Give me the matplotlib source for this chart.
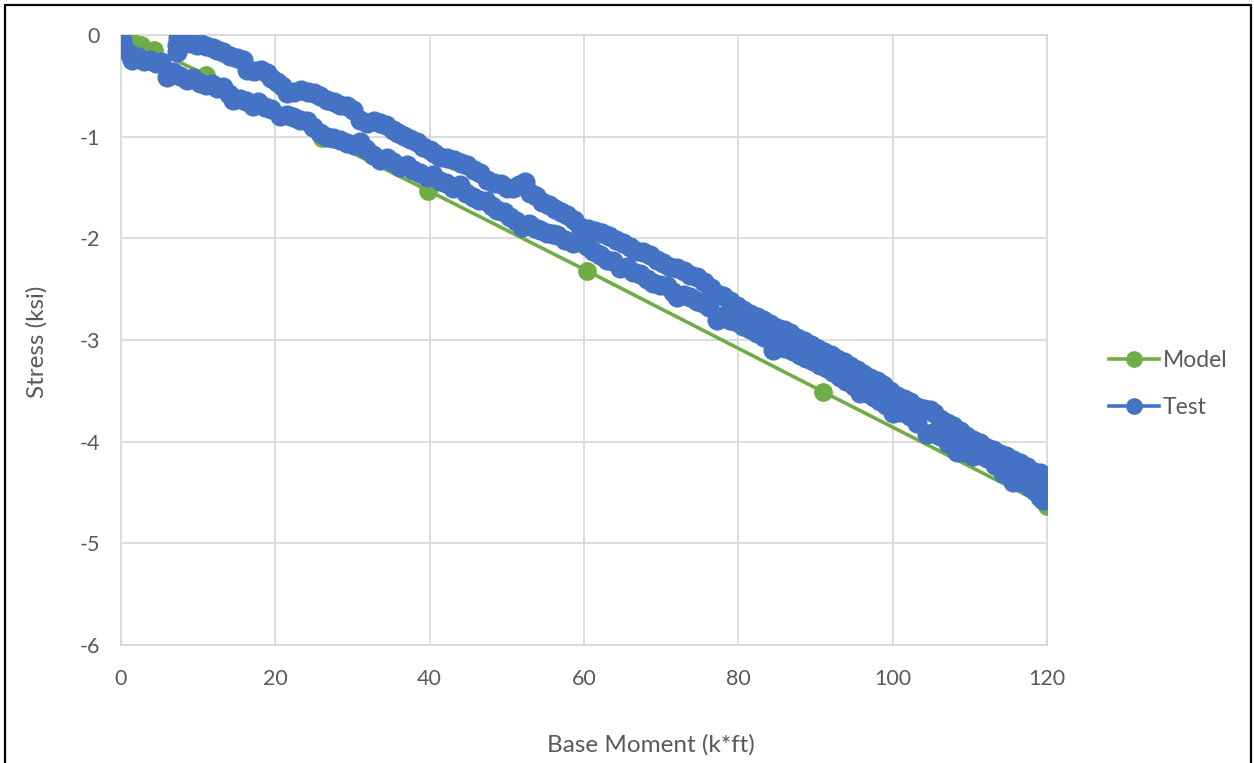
import matplotlib
matplotlib.use("Agg")
import matplotlib.pyplot as plt
from matplotlib.patches import Rectangle

# Model curve (Base Moment k*ft, Stress ksi)
model_x = [0.0, 1.2, 2.6, 4.3, 11.0, 26.0, 39.8, 60.4, 91.0, 120.0]
model_y = [0.0, -0.03, -0.10, -0.15, -0.39, -1.01, -1.53, -2.32, -3.51, -4.63]

# Test: loading branch (0 -> 120)
load_x = [0.0, 0.1, 0.3, 1.0, 1.4, 2.2, 3.0, 3.8, 4.6, 5.2, 6.0, 6.8, 7.6, 8.5, 9.3,
          10.2, 11.0, 11.8, 12.5, 13.2, 14.0, 14.5, 15.4, 16.2, 17.1, 17.8, 18.6, 19.4,
          20.6, 21.5, 22.3, 23.2, 24.1, 24.9, 25.8, 26.7, 27.5, 28.4, 29.3, 30.2, 31.0,
          31.8, 32.7, 33.6, 34.5, 35.3, 36.2, 37.0, 37.9, 38.7, 39.6, 40.4, 41.3, 42.1,
          43.0, 43.9, 44.7, 45.6, 46.4, 47.3, 48.1, 48.7, 49.6, 50.4, 51.2, 52.0, 52.9,
          53.6, 54.3, 55.2, 56.0, 56.5, 57.5, 58.6, 59.5, 60.4, 61.2, 62.1, 63.0, 63.8,
          64.7, 65.6, 66.4, 67.3, 68.1, 69.0, 69.9, 70.7, 71.5, 72.0, 72.9, 73.7, 74.6,
          75.4, 76.2, 77.2, 78.0, 78.9, 79.8, 80.6, 81.5, 82.4, 83.3, 84.5, 85.2, 86.1,
          87.1, 88.0, 88.8, 89.7, 90.6, 91.5, 92.3, 93.2, 94.0, 95.0, 95.8, 96.7, 97.6,
          98.4, 99.2, 100.0, 101.0, 102.2, 103.2, 104.4, 105.2, 106.1, 107.2, 108.3,
          109.3, 110.4, 111.3, 112.2, 113.3, 114.3, 115.0, 115.6, 116.7, 117.8, 118.5,
          119.1, 119.5]
load_y = [0.00, -0.06, -0.12, -0.18, -0.25, -0.22, -0.26, -0.25, -0.28, -0.27, -0.41,
          -0.36, -0.40, -0.44, -0.42, -0.47, -0.49, -0.48, -0.52, -0.51, -0.58, -0.64,
          -0.63, -0.65, -0.70, -0.66, -0.71, -0.73, -0.80, -0.79, -0.81, -0.84, -0.85,
          -0.90, -0.96, -1.00, -1.01, -1.03, -1.06, -1.08, -1.05, -1.12, -1.18, -1.23,
          -1.21, -1.25, -1.30, -1.28, -1.33, -1.36, -1.40, -1.38, -1.44, -1.46, -1.50,
          -1.48, -1.55, -1.59, -1.62, -1.63, -1.68, -1.72, -1.74, -1.79, -1.83, -1.89,
          -1.86, -1.90, -1.92, -1.95, -1.96, -1.97, -2.02, -2.05, -2.04, -2.08, -2.12,
          -2.16, -2.21, -2.22, -2.29, -2.28, -2.33, -2.35, -2.40, -2.44, -2.46, -2.47,
          -2.53, -2.58, -2.56, -2.58, -2.62, -2.64, -2.68, -2.80, -2.76, -2.80, -2.82,
          -2.86, -2.89, -2.93, -2.97, -3.10, -3.06, -3.08, -3.11, -3.15, -3.18, -3.21,
          -3.25, -3.28, -3.31, -3.36, -3.40, -3.45, -3.52, -3.52, -3.56, -3.60, -3.64,
          -3.72, -3.71, -3.75, -3.82, -3.92, -3.91, -3.94, -4.01, -4.10, -4.10, -4.14,
          -4.13, -4.16, -4.23, -4.31, -4.32, -4.40, -4.40, -4.45, -4.49, -4.54, -4.57]

# Test: unloading branch (120 -> ~7)
unload_x = [120.0, 119.6, 119.1, 118.3, 117.4, 116.5, 115.6, 114.7, 113.9, 113.0, 112.2,
            111.3, 110.4, 109.5, 108.7, 107.8, 107.0, 106.1, 105.3, 104.8, 104.0, 103.2,
            102.3, 101.5, 100.6, 99.7, 98.8, 98.0, 97.1, 96.2, 95.4, 94.5, 93.7, 92.8,
            92.0, 91.1, 90.3, 89.4, 88.5, 87.6, 86.7, 85.9, 85.0, 84.1, 83.2, 82.4, 81.5,
            80.6, 79.8, 78.9, 78.0, 77.2, 76.4, 75.5, 74.6, 73.8, 72.9, 72.0, 71.2, 70.3,
            69.4, 68.5, 67.6, 66.7, 65.9, 65.0, 64.1, 63.2, 62.3, 61.4, 60.5, 59.5, 58.7,
            57.8, 57.0, 56.2, 55.4, 54.6, 53.8, 53.0, 52.4, 51.6, 50.8, 50.0, 49.2, 48.3,
            47.4, 46.5, 45.7, 44.8, 44.0, 43.1, 42.2, 41.4, 40.6, 40.0, 39.2, 38.4, 37.5,
            36.7, 35.9, 35.2, 34.4, 33.6, 32.8, 31.9, 31.0, 30.1, 29.3, 28.4, 27.6, 26.7,
            25.8, 25.0, 24.2, 23.3, 22.4, 21.5, 20.8, 20.2, 19.5, 18.9, 18.1, 17.3, 16.3,
            15.8, 15.0, 14.1, 13.2, 12.5, 11.9, 11.0, 10.4, 9.8, 9.0, 8.3, 7.6, 7.4, 7.3,
            7.2]
unload_y = [-4.40, -4.34, -4.31, -4.30, -4.25, -4.21, -4.18, -4.14, -4.12, -4.08, -4.06,
            -4.01, -3.98, -3.94, -3.90, -3.85, -3.82, -3.78, -3.72, -3.69, -3.68, -3.66,
            -3.61, -3.58, -3.55, -3.50, -3.44, -3.40, -3.37, -3.33, -3.30, -3.26, -3.22,
            -3.19, -3.15, -3.12, -3.09, -3.05, -3.01, -2.98, -2.93, -2.90, -2.88, -2.84,
            -2.80, -2.77, -2.74, -2.70, -2.67, -2.62, -2.57, -2.55, -2.49, -2.43, -2.38,
            -2.36, -2.32, -2.29, -2.28, -2.24, -2.21, -2.16, -2.13, -2.12, -2.09, -2.05,
            -2.02, -1.98, -1.95, -1.93, -1.91, -1.89, -1.82, -1.77, -1.74, -1.71, -1.67,
            -1.64, -1.58, -1.55, -1.45, -1.48, -1.50, -1.50, -1.47, -1.46, -1.43, -1.36,
            -1.33, -1.28, -1.26, -1.23, -1.21, -1.20, -1.16, -1.13, -1.10, -1.05, -1.02,
            -0.99, -0.96, -0.93, -0.89, -0.87, -0.85, -0.87, -0.84, -0.74, -0.70, -0.69,
            -0.66, -0.64, -0.60, -0.57, -0.56, -0.54, -0.56, -0.57, -0.50, -0.46, -0.42,
            -0.37, -0.34, -0.35, -0.34, -0.25, -0.23, -0.21, -0.17, -0.15, -0.13, -0.11,
            -0.09, -0.10, -0.08, -0.06, -0.05, -0.03, -0.17, -0.10]

x_ticks = [0, 20, 40, 60, 80, 100, 120]
y_ticks = [0, -1, -2, -3, -4, -5, -6]

GREEN = "#70AD47"
BLUE = "#4472C4"
GRID = "#D9D9D9"
TEXT = "#595959"

plt.rcParams["font.family"] = ["Lato", "DejaVu Sans"]
plt.rcParams["axes.unicode_minus"] = False

W, H = 1254, 763
fig = plt.figure(figsize=(W / 100, H / 100), dpi=100)
ax = fig.add_axes([121 / W, 1 - 645 / H, 926 / W, 610 / H])

test_x = load_x + unload_x
test_y = load_y + unload_y

ax.plot(model_x, model_y, color=GREEN, lw=2.6, marker="o", ms=12.5,
        label="Model", zorder=3)
ax.plot(test_x, test_y, color=BLUE, lw=2.6, marker="o", ms=13.5,
        label="Test", zorder=4)

ax.set_xlim(0, 120)
ax.set_ylim(-6, 0)
ax.set_xticks(x_ticks)
ax.set_yticks(y_ticks)
ax.grid(True, color=GRID, lw=1.3, zorder=0)
ax.set_axisbelow(True)
for s in ax.spines.values():
    s.set_color(GRID)
    s.set_linewidth(1.3)
ax.tick_params(length=0, labelsize=15.5, colors=TEXT)
ax.tick_params(axis="y", pad=15)
ax.tick_params(axis="x", pad=17)
for lab in ax.get_yticklabels() + ax.get_xticklabels():
    lab.set_clip_on(False)

fig.text(37 / W, 1 - 342 / H, "Stress (ksi)", rotation=90, ha="center",
         va="center", fontsize=17.5, color=TEXT)
fig.text(651 / W, 1 - 745 / H, "Base Moment (k*ft)", ha="center",
         va="center", fontsize=17.5, color=TEXT)

leg = fig.legend(loc="center left", bbox_to_anchor=(1088 / W, 1 - 384 / H),
                 frameon=False, fontsize=16.5, handlelength=2.2,
                 handletextpad=0.15, labelspacing=1.15, labelcolor=TEXT)
for h in leg.legend_handles:
    h.set_markersize(11)

# black frame around the chart
fig.patches.append(Rectangle((5 / W, -0.02), 1246 / W, 1 - 5 / H + 0.02,
                             transform=fig.transFigure, fill=False,
                             edgecolor="black", lw=1.6))

fig.savefig("out.png", dpi=100)
